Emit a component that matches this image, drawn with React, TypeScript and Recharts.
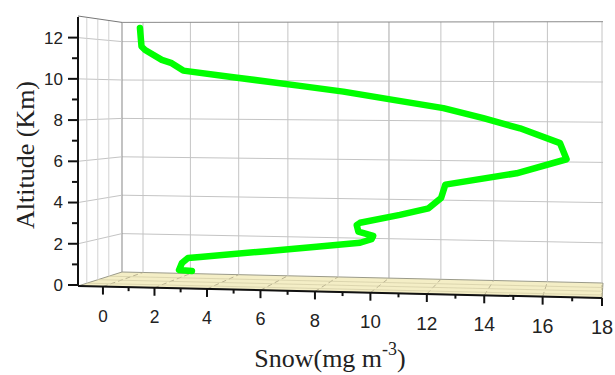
import { Line, LineChart, XAxis, YAxis } from "recharts";

// vertical profile (snow in mg m-3, altitude in km)
const snow = [
  1.44, 1.5, 1.64, 2.28, 2.66, 3.1, 4.99, 7.46, 9.03, 10.81, 12.58, 13.97, 15.23, 16.59, 16.81,
  15.11, 12.65, 12.5, 12.06, 11.05, 9.63, 9.51, 9.57, 10.1, 10.04, 9.63, 8.06, 6.22, 3.74, 3.28,
  3.05, 2.94, 3.43
];
const altitude = [
  12.47, 11.57, 11.4, 10.92, 10.76, 10.4, 10.08, 9.66, 9.38, 8.98, 8.58, 8.09, 7.6, 6.88, 6.1, 5.42,
  4.87, 4.22, 3.72, 3.4, 3.02, 2.9, 2.59, 2.38, 2.22, 2.05, 1.86, 1.64, 1.36, 1.31, 1.07, 0.73, 0.68
];
const xTicks = [0, 1, 2, 3, 4, 5, 6, 7, 8, 9, 10, 11, 12, 13, 14, 15, 16, 17, 18];
const yTicks = [0, 1, 2, 3, 4, 5, 6, 7, 8, 9, 10, 11, 12];
const gridX = [0, 2, 4, 6, 8, 10, 12, 14, 16, 18];
const gridY = [2, 4, 6, 8, 10, 12];

const data = snow.map((s, i) => ({ snow: s, alt: altitude[i] }));

const W = 615;
const H = 375;
const LEFT = 78;
const RIGHT = 602;
const TOP = 17;
const BOTTOM = 285;
const X_MIN = -0.9;
const X_MAX = 18;
const Y_MAX = 13;

// the front axis is drawn in perspective: ticks spread out to the right
const K = 0.00442;
const persp = (v: number) => v - K * v * (X_MAX - v);

const frontX = (v: number) => LEFT + ((persp(v) - X_MIN) / (X_MAX - X_MIN)) * (RIGHT - LEFT);
const frontY = (a: number) => BOTTOM - (a / Y_MAX) * (BOTTOM - TOP);
const axisY = (x: number) => 286 + ((x - LEFT) / (RIGHT - LEFT)) * 12;
const BACK_L = 122;
const BACK_R = 603;
const backX = (v: number) => 143 + ((602 - 143) / X_MAX) * persp(v);
const backY = (a: number, x: number) => {
  const t = (x - BACK_L) / (BACK_R - BACK_L);
  return (272 - 19.2 * a) * (1 - t) + (283 - 20.1 * a) * t;
};
const lerp = (p: number, q: number, f: number) => p + (q - p) * f;
const depths = [0.2, 0.45, 0.7];

function Box() {
  const fl = { x: LEFT, y: 286 };
  const fr = { x: RIGHT, y: 298 };
  const bl = { x: BACK_L, y: backY(0, BACK_L) };
  const br = { x: BACK_R, y: backY(0, BACK_R) };
  const topL = backY(Y_MAX, BACK_L);
  const topR = backY(Y_MAX, BACK_R);
  const grey = "#c4c4c4";
  return (
    <svg width={W} height={H} style={{ position: "absolute", left: 0, top: 0 }}>
      {/* floor */}
      <polygon
        points={`${fl.x},${fl.y} ${fr.x},${fr.y} ${br.x},${br.y} ${bl.x},${bl.y}`}
        fill="#f4eec6"
        stroke="#9a9a8a"
        strokeWidth={1}
      />
      {gridX.map((v) => (
        <line
          key={`fd${v}`}
          x1={frontX(v)}
          y1={axisY(frontX(v))}
          x2={backX(v)}
          y2={backY(0, backX(v))}
          stroke="#a9a283"
          strokeWidth={0.8}
          strokeDasharray="5 3"
        />
      ))}
      {depths.map((f) => (
        <line
          key={`fp${f}`}
          x1={lerp(fl.x, bl.x, f)}
          y1={lerp(fl.y, bl.y, f)}
          x2={lerp(fr.x, br.x, f)}
          y2={lerp(fr.y, br.y, f)}
          stroke="#d6cfa8"
          strokeWidth={0.8}
        />
      ))}
      {/* back wall */}
      {gridX.map((v) => (
        <line
          key={`bv${v}`}
          x1={backX(v)}
          y1={backY(Y_MAX, backX(v))}
          x2={backX(v)}
          y2={backY(0, backX(v))}
          stroke={v === 10 ? "#a8a8a8" : grey}
          strokeWidth={1}
        />
      ))}
      {gridY.map((a) => (
        <line key={`bh${a}`} x1={BACK_L} y1={backY(a, BACK_L)} x2={BACK_R} y2={backY(a, BACK_R)} stroke={grey} strokeWidth={1} />
      ))}
      <line x1={BACK_L} y1={topL} x2={BACK_R} y2={topR} stroke="#8a8a8a" strokeWidth={1} />
      <line x1={BACK_L} y1={topL} x2={BACK_L} y2={bl.y} stroke="#9a9a9a" strokeWidth={1.2} />
      {/* side wall */}
      {gridY.map((a) => (
        <line key={`sh${a}`} x1={LEFT} y1={frontY(a)} x2={BACK_L} y2={backY(a, BACK_L)} stroke={grey} strokeWidth={1} />
      ))}
      {depths.map((f) => (
        <line
          key={`sv${f}`}
          x1={lerp(LEFT, BACK_L, f)}
          y1={lerp(frontY(Y_MAX), topL, f)}
          x2={lerp(LEFT, BACK_L, f)}
          y2={lerp(286, bl.y, f)}
          stroke="#d2d2d2"
          strokeWidth={1}
        />
      ))}
      <line x1={LEFT} y1={frontY(Y_MAX) - 1} x2={BACK_L} y2={topL} stroke="#777" strokeWidth={1} />
      {/* front x axis */}
      <line x1={fl.x} y1={fl.y} x2={fr.x} y2={fr.y} stroke="#111" strokeWidth={2} />
    </svg>
  );
}

function XTick({ x, index }: { x?: number; index?: number }) {
  const v = xTicks[index ?? 0];
  const px = x ?? 0;
  const y0 = axisY(px);
  const major = v % 2 === 0;
  const fs = 17 + ((px - LEFT) / (RIGHT - LEFT)) * 3;
  return (
    <g>
      <line x1={px} y1={y0} x2={px} y2={y0 + (major ? 8 : 4)} stroke="#111" strokeWidth={2} />
      {major && (
        <text x={px} y={y0 + 29} dy="0.35em" textAnchor="middle" fontSize={fs} fill="#222" fontFamily="Liberation Sans, Arial, sans-serif">
          {v}
        </text>
      )}
    </g>
  );
}

function YTick({ y, payload }: { y?: number; payload?: { value: number } }) {
  const v = payload?.value ?? 0;
  const py = y ?? 0;
  const major = v % 2 === 0;
  return (
    <g>
      <line x1={LEFT - (major ? 10 : 6)} y1={py} x2={LEFT} y2={py} stroke="#111" strokeWidth={2} />
      {major && (
        <text x={63} y={py} dy="0.35em" textAnchor="end" fontSize={17} fill="#222" fontFamily="Liberation Sans, Arial, sans-serif">
          {v}
        </text>
      )}
    </g>
  );
}

function SnowTitle() {
  return (
    <text x={330} y={367} textAnchor="middle" fontSize={26} fill="#222" fontFamily="Liberation Serif, Times New Roman, serif">
      Snow(mg m
      <tspan fontSize={18} dy={-12}>
        -3
      </tspan>
      <tspan dy={12}>)</tspan>
    </text>
  );
}

function AltitudeTitle() {
  return (
    <text
      x={25}
      y={155}
      dy="0.35em"
      textAnchor="middle"
      fontSize={26}
      fill="#222"
      fontFamily="Liberation Serif, Times New Roman, serif"
      transform="rotate(-90 25 155)"
    >
      Altitude (Km)
    </text>
  );
}

export default function App() {
  return (
    <div style={{ position: "absolute", left: 0, top: 0, width: W, height: H, background: "#fff" }}>
      <Box />
      <div style={{ position: "absolute", left: 0, top: 0 }}>
        <LineChart width={W} height={H} data={data} margin={{ top: TOP, right: W - RIGHT, bottom: H - BOTTOM - 50, left: 0 }}>
          <XAxis
            type="number"
            dataKey={(d: { snow: number }) => persp(d.snow)}
            domain={[X_MIN, X_MAX]}
            ticks={xTicks.map(persp)}
            interval={0}
            height={50}
            axisLine={false}
            tickLine={false}
            tick={<XTick />}
            label={<SnowTitle />}
          />
          <YAxis
            type="number"
            domain={[0, Y_MAX]}
            ticks={yTicks}
            interval={0}
            width={LEFT}
            axisLine={{ stroke: "#111", strokeWidth: 2 }}
            tickLine={false}
            tick={<YTick />}
            label={<AltitudeTitle />}
          />
          <Line
            type="linear"
            dataKey="alt"
            stroke="#00ff00"
            strokeWidth={6.5}
            strokeLinejoin="round"
            strokeLinecap="round"
            dot={false}
            isAnimationActive={false}
          />
        </LineChart>
      </div>
    </div>
  );
}
